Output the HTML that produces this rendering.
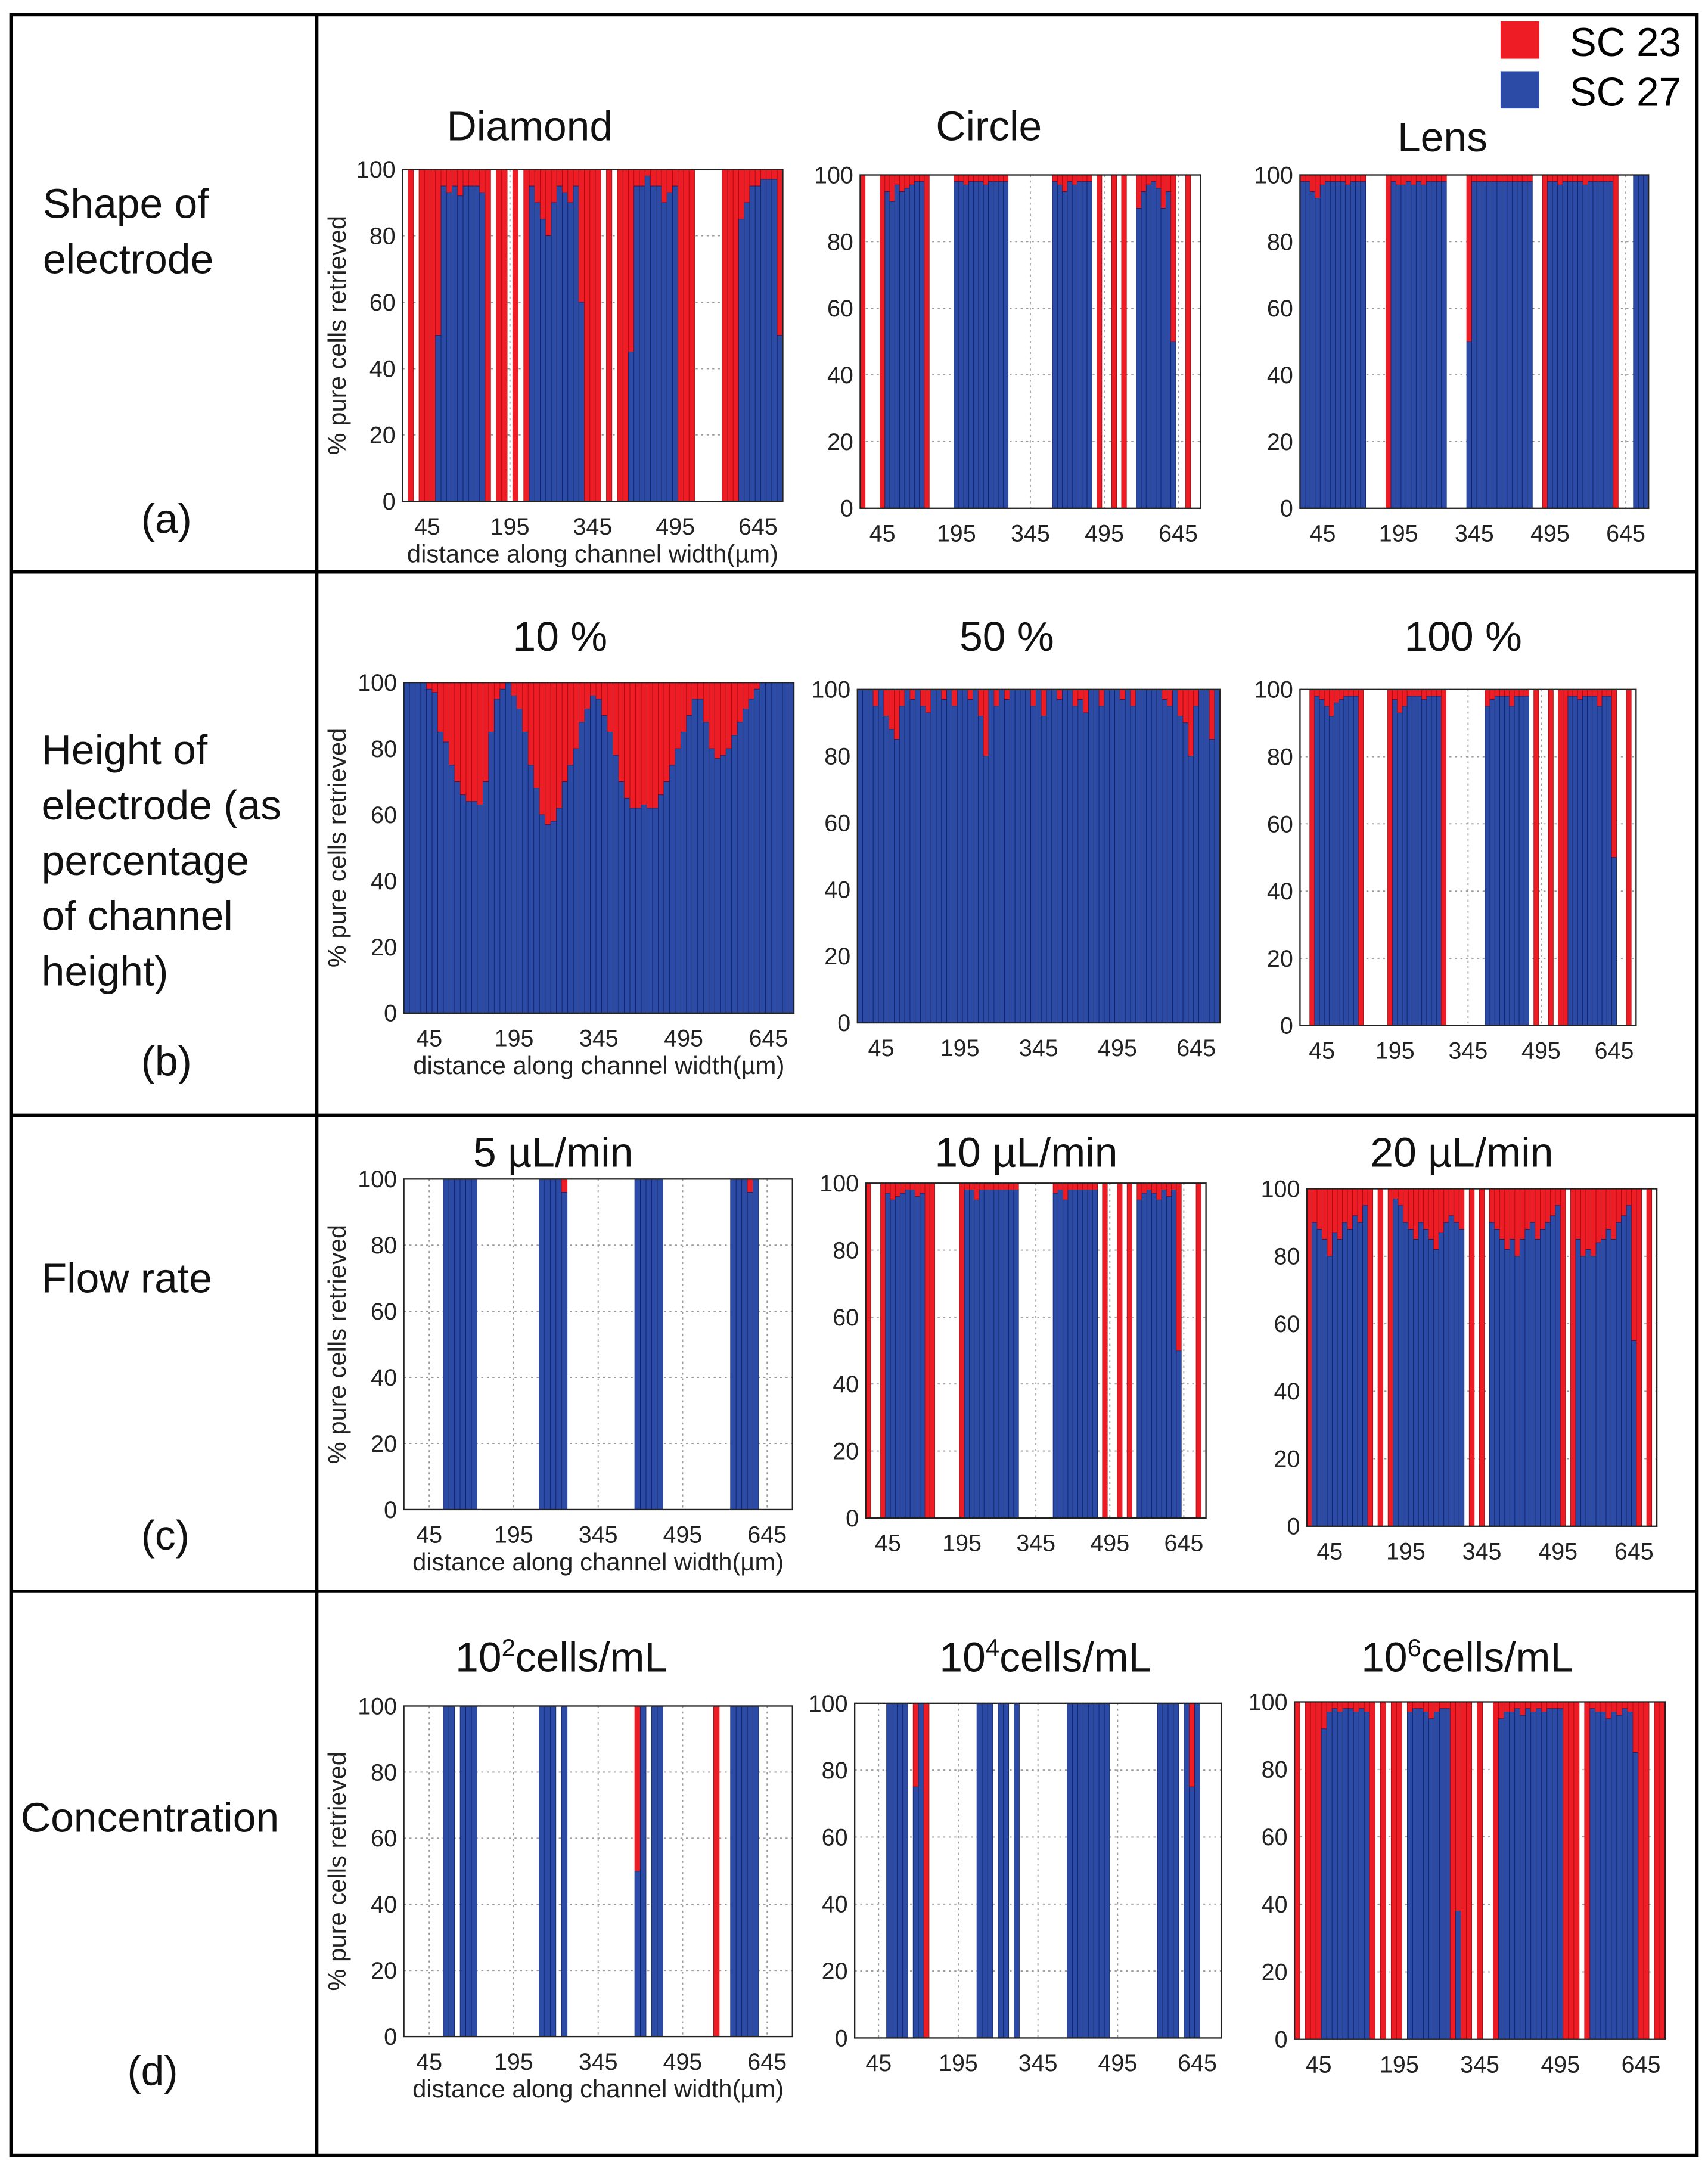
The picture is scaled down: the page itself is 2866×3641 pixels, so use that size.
<!DOCTYPE html>
<html><head><meta charset="utf-8"><style>
html,body{margin:0;padding:0;background:#fff}
svg{display:block}
text{font-family:"Liberation Sans",sans-serif}
</style></head><body>
<svg id="fig" width="2866" height="3641" viewBox="0 0 1235 1568" xmlns="http://www.w3.org/2000/svg">
<rect x="0" y="0" width="1235" height="1568" fill="#fff"/>
<g fill="none" stroke="#000" stroke-width="2.5">
<rect x="8" y="10" width="1219" height="1548"/>
<line x1="229" y1="10" x2="229" y2="1558"/>
<line x1="8" y1="413" x2="1227" y2="413"/>
<line x1="8" y1="806" x2="1227" y2="806"/>
<line x1="8" y1="1150" x2="1227" y2="1150"/>
</g>
<g font-size="30" fill="#111">
<text x="31" y="157">Shape of</text>
<text x="31" y="197">electrode</text>
<text x="102" y="385">(a)</text>
<text x="30" y="552">Height of</text>
<text x="30" y="592">electrode (as</text>
<text x="30" y="632">percentage</text>
<text x="30" y="672">of channel</text>
<text x="30" y="712">height)</text>
<text x="102" y="777">(b)</text>
<text x="30" y="934">Flow rate</text>
<text x="102" y="1120">(c)</text>
<text x="15" y="1324">Concentration</text>
<text x="92" y="1507">(d)</text>
</g>
<g>
<rect x="1085" y="15" width="28" height="27" fill="#ee1c24"/>
<text x="1135" y="40" font-size="29">SC 23</text>
<rect x="1085" y="51" width="28" height="27" fill="#2b4ba6"/>
<text x="1135" y="76" font-size="29">SC 27</text>
</g>
<g id="charts"></g>
</svg>
<script>
const xTicks=[45,195,345,495,645];
const yTicks=[0,20,40,60,80,100];
const binWidth=10;
// values: blue % per 10 µm bin; 0 = full red bar; -1 = empty
const diamond=[-1,0,-1,0,0,0,50,95,93,95,92,95,95,95,93,0,-1,0,0,-1,0,-1,0,95,90,85,80,90,95,93,90,95,60,0,0,0,-1,0,-1,0,0,45,95,95,98,95,95,90,93,95,0,0,0,-1,-1,-1,-1,-1,0,0,0,85,90,95,95,97,97,97,50];
const circle=[0,-1,-1,-1,0,95,92,97,95,96,97,98,98,0,-1,-1,-1,-1,-1,98,98,97,98,98,98,97,98,98,98,98,-1,-1,-1,-1,-1,-1,-1,-1,-1,98,97,95,98,97,98,98,98,-1,0,-1,-1,0,-1,0,-1,-1,90,95,97,98,96,90,95,50,-1,-1,0,-1,-1];
const lens=[98,98,95,93,97,98,98,98,98,97,98,98,98,-1,-1,-1,-1,0,98,97,97,98,97,98,97,98,98,98,98,-1,-1,-1,-1,50,98,98,98,98,98,98,98,98,98,98,98,98,-1,-1,0,98,98,97,98,98,98,98,97,98,98,98,98,98,0,-1,-1,-1,100,100,100];
const h10=[100,100,100,100,98,97,85,82,75,70,66,64,64,63,70,85,95,98,100,96,92,85,75,68,60,57,58,62,70,75,80,88,92,96,95,90,85,78,70,65,62,62,63,62,62,66,70,75,80,85,90,95,95,88,80,77,78,80,84,88,92,95,98,100,100,100,100,100,100];
const h50=[100,100,100,95,100,92,88,85,95,100,97,100,95,93,100,100,97,100,95,100,100,97,100,92,80,100,95,100,97,100,100,100,100,95,100,92,100,100,97,100,100,95,97,93,100,100,95,100,100,100,97,100,95,100,100,100,100,100,97,95,100,92,90,80,95,100,100,85,100];
const h100=[-1,-1,0,98,97,95,92,96,97,98,98,98,0,-1,-1,-1,-1,-1,0,97,93,95,98,98,98,97,98,98,98,0,-1,-1,-1,-1,-1,-1,-1,-1,95,97,98,98,98,95,98,98,98,-1,0,-1,-1,0,-1,0,0,98,98,97,98,98,98,95,98,98,50,-1,-1,0,-1];
const f5=[-1,-1,-1,-1,-1,-1,-1,100,100,100,100,100,100,-1,-1,-1,-1,-1,-1,-1,-1,-1,-1,-1,100,100,100,100,96,-1,-1,-1,-1,-1,-1,-1,-1,-1,-1,-1,-1,100,100,100,100,100,-1,-1,-1,-1,-1,-1,-1,-1,-1,-1,-1,-1,100,100,100,96,100,-1,-1,-1,-1,-1,-1];
const f10=[0,-1,-1,0,97,95,96,97,98,98,96,97,0,0,-1,-1,-1,-1,-1,0,98,98,95,98,98,98,98,98,98,98,98,-1,-1,-1,-1,-1,-1,-1,97,98,95,98,98,98,98,98,98,-1,0,-1,-1,0,-1,0,-1,95,97,98,97,95,98,96,98,50,-1,-1,-1,0,-1];
const f20=[0,90,88,85,80,87,85,90,88,92,90,95,0,-1,0,-1,0,97,95,90,88,85,90,88,85,82,87,90,92,90,88,-1,0,-1,0,-1,90,88,85,82,85,80,85,88,90,85,88,90,92,95,0,-1,0,85,80,82,80,84,85,88,85,90,92,95,55,0,-1,0,-1];
const c2=[-1,-1,-1,-1,-1,-1,-1,100,100,-1,100,100,100,-1,-1,-1,-1,-1,-1,-1,-1,-1,-1,-1,100,100,100,-1,100,-1,-1,-1,-1,-1,-1,-1,-1,-1,-1,-1,-1,50,100,-1,100,100,-1,-1,-1,-1,-1,-1,-1,-1,-1,0,-1,-1,100,100,100,100,100,-1,-1,-1,-1,-1,-1];
const c4=[-1,-1,-1,-1,-1,-1,100,100,100,100,-1,75,100,0,-1,-1,-1,-1,-1,-1,-1,-1,-1,100,100,100,-1,100,100,-1,100,-1,-1,-1,-1,-1,-1,-1,-1,-1,100,100,100,100,100,100,100,100,-1,-1,-1,-1,-1,-1,-1,-1,-1,100,100,100,100,-1,100,75,100,-1,-1,-1,-1];
const c6=[0,-1,0,0,0,92,97,98,97,98,98,97,98,97,0,-1,0,-1,0,0,-1,97,98,98,97,95,97,98,98,0,38,0,0,-1,0,-1,-1,0,95,97,97,98,96,98,97,98,97,98,98,98,0,0,0,-1,0,98,97,97,95,97,96,98,97,85,0,0,-1,0,0];

const panels=[
 {id:'diamond',title:'Diamond',tx:383,ty:101,x0:291,x1:566,y0:122,y1:362,data:diamond,left:true},
 {id:'circle',title:'Circle',tx:715,ty:101,x0:622,x1:868,y0:126,y1:367,data:circle},
 {id:'lens',title:'Lens',tx:1043,ty:109,x0:940,x1:1192,y0:126,y1:367,data:lens},
 {id:'height-10',title:'10 %',tx:405,ty:470,x0:292,x1:574,y0:493,y1:732,data:h10,left:true},
 {id:'height-50',title:'50 %',tx:728,ty:470,x0:620,x1:882,y0:498,y1:739,data:h50},
 {id:'height-100',title:'100 %',tx:1058,ty:470,x0:940,x1:1183,y0:498,y1:741,data:h100},
 {id:'flow-5',title:'5 µL/min',tx:400,ty:843,x0:292,x1:573,y0:852,y1:1091,data:f5,left:true},
 {id:'flow-10',title:'10 µL/min',tx:742,ty:843,x0:626,x1:872,y0:855,y1:1097,data:f10},
 {id:'flow-20',title:'20 µL/min',tx:1057,ty:843,x0:945,x1:1198,y0:859,y1:1103,data:f20},
 {id:'conc-2',title:'2',tx:406,ty:1208,x0:292,x1:573,y0:1233,y1:1472,data:c2,left:true},
 {id:'conc-4',title:'4',tx:756,ty:1208,x0:618,x1:883,y0:1231,y1:1473,data:c4},
 {id:'conc-6',title:'6',tx:1061,ty:1208,x0:936,x1:1204,y0:1230,y1:1474,data:c6}
];
const NS='http://www.w3.org/2000/svg';
const root=document.getElementById('charts');
function mk(tag,attrs,parent){const e=document.createElementNS(NS,tag);for(const k in attrs)e.setAttribute(k,attrs[k]);parent.appendChild(e);return e;}
panels.forEach(p=>{
 const g=mk('g',{},root);
 
 
 const n=p.data.length;
 const dom=n*binWidth;
 const sx=v=>p.x0+(v/dom)*(p.x1-p.x0);
 const sy=v=>p.y1-(v/100)*(p.y1-p.y0);
 // grid
 xTicks.forEach(t=>{const l=mk('line',{x1:sx(t),x2:sx(t),y1:p.y0,y2:p.y1,stroke:'#999','stroke-width':0.8,'stroke-dasharray':'1.5,2.5'},g);
  
  });
 yTicks.forEach(t=>{const l=mk('line',{x1:p.x0,x2:p.x1,y1:sy(t),y2:sy(t),stroke:'#999','stroke-width':0.8,'stroke-dasharray':'1.5,2.5'},g);
  
  });
 const bw=(p.x1-p.x0)/n;
 p.data.forEach((v,i)=>{
  if(v<0)return;
  const x=sx(i*binWidth);
  if(v<100){const r=mk('rect',{x:x,y:sy(100),width:bw,height:sy(v)-sy(100),fill:'#ee1c24',stroke:'#9a1015','stroke-width':0.35},g);
   
   }
  if(v>0){const r=mk('rect',{x:x,y:sy(v),width:bw,height:sy(0)-sy(v),fill:'#2b4ba6',stroke:'#13235e','stroke-width':0.35},g);
   
   }
 });
 const ax=mk('rect',{x:p.x0,y:p.y0,width:p.x1-p.x0,height:p.y1-p.y0,fill:'none',stroke:'#222','stroke-width':1},g);
 
 
 xTicks.forEach(t=>{const tx=mk('text',{x:sx(t),y:p.y1+24,'font-size':17,'text-anchor':'middle',fill:'#222'},g);tx.textContent=t;
  
  });
 yTicks.forEach(t=>{const tx=mk('text',{x:p.x0-5,y:sy(t)+6,'font-size':17,'text-anchor':'end',fill:'#222'},g);tx.textContent=t;
  
  });
 const ti=mk('text',{x:p.tx,y:p.ty,'font-size':30,'text-anchor':'middle',fill:'#111'},g);
 if(p.id.startsWith('conc')){ti.innerHTML='10<tspan dy="-11" font-size="18">'+p.title+'</tspan><tspan dy="11">cells/mL</tspan>';}
 else ti.textContent=p.title;
 
 
 if(p.left){
  const xl=mk('text',{x:(p.x0+p.x1)/2,y:p.y1+44,'font-size':18,'text-anchor':'middle',fill:'#222'},g);
  xl.textContent='distance along channel width(µm)';
  
  
  const cy=(p.y0+p.y1)/2;
  const yl=mk('text',{x:250,y:cy,'font-size':18,'text-anchor':'middle',fill:'#222',transform:'rotate(-90 250 '+cy+')'},g);
  yl.textContent='% pure cells retrieved';
  
  
 }
});
</script>
</body></html>
